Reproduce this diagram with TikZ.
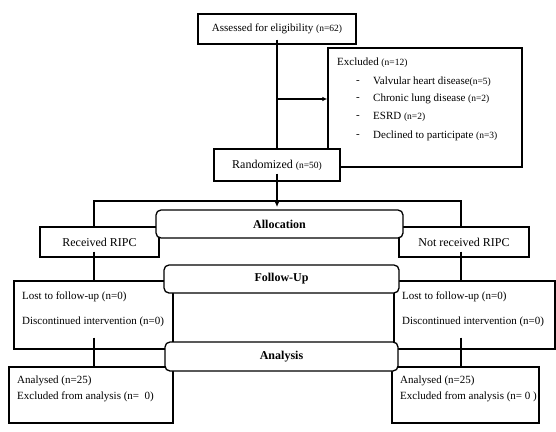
\documentclass[tikz,border=0pt]{standalone}
\usepackage{fontspec}
\setmainfont{Liberation Serif}
\usetikzlibrary{arrows.meta}

\tikzset{
  box/.style={draw, line width=1.3pt, inner sep=0pt, font=\fontsize{11}{13}\selectfont},
  bigbox/.style={box, font=\fontsize{12}{14}\selectfont},
  stage/.style={draw, line width=1.3pt, fill=white, rounded corners=5pt, inner sep=0pt,
    font=\fontsize{12}{14}\selectfont\bfseries},
  txt/.style={inner sep=0pt, anchor=west, font=\fontsize{11}{13}\selectfont},
  link/.style={line width=1.3pt},
  pointer/.style={link, -{Latex[length=5pt,width=4.5pt]}},
}
\newcommand{\nsmall}[1]{{\fontsize{9.5}{11}\selectfont #1}}

\begin{document}
\begin{tikzpicture}[x=1pt,y=-1pt]
\useasboundingbox (0,0) rectangle (556,431);

% screening
\node[box, minimum width=158pt, minimum height=30pt] (assess) at (277,29) {Assessed for eligibility \nsmall{(n=62)}};
\node[box, minimum width=194pt, minimum height=119pt] (excl) at (425,107.5) {};
\node[txt] (exclhead) at (337,63) {Excluded \nsmall{(n=12)}};
\foreach \y/\t [count=\i] in {82/{Valvular heart disease\nsmall{(n=5)}},
                              99/{Chronic lung disease \nsmall{(n=2)}},
                              117/{ESRD \nsmall{(n=2)}},
                              136/{Declined to participate \nsmall{(n=3)}}}{
  \node[txt] (dash\i) at (356,\y) {-};
  \node[txt] (excl\i) at (373,\y) {\t};
}
\node[bigbox, fill=white, minimum width=126pt, minimum height=32pt] (rand) at (277,165) {Randomized \nsmall{(n=50)}};

\coordinate (branch) at (277,99);
\coordinate (jl) at (94,201);
\coordinate (jr) at (461,201);

% arms
\node[bigbox, minimum width=119pt, minimum height=30pt] (recv) at (99.5,242) {Received RIPC};
\node[bigbox, minimum width=130pt, minimum height=30pt] (notrecv) at (464,242) {Not received RIPC};
\node[box, minimum width=159pt, minimum height=68pt] (lostL) at (93.5,315) {};
\node[box, minimum width=161pt, minimum height=68pt] (lostR) at (474.5,315) {};
\node[box, minimum width=164pt, minimum height=56pt] (anaL) at (91,395) {};
\node[box, minimum width=147pt, minimum height=56pt] (anaR) at (465.5,395) {};

% connectors
\draw[link] ([yshift=5pt]assess.south) -- (rand.north);
\draw[pointer] (branch) -- (branch -| excl.west);
\draw[pointer] ([yshift=8pt]rand.south) -- ([yshift=3pt]rand.south |- 0,210);
\draw[link] (recv.north -| jl) -- (jl) -- (jr) -- (notrecv.north -| jr);
\draw[link] ([yshift=6pt]recv.south -| jl) -- (lostL.north -| jl);
\draw[link] ([yshift=6pt]notrecv.south -| jr) -- (lostR.north -| jr);
\draw[link] ([yshift=12pt]lostL.south -| jl) -- (anaL.north -| jl);
\draw[link] ([yshift=12pt]lostR.south -| jr) -- (anaR.north -| jr);

% stages
\node[stage, minimum width=247pt, minimum height=28pt] (alloc) at (279.5,224) {Allocation};
\node[stage, minimum width=235pt, minimum height=28pt] (follow) at (281.5,279) {Follow-Up};
\node[stage, minimum width=233pt, minimum height=29pt] (analysis) at (281.5,356.5) {Analysis};

% box texts
\node[txt] (lostL1) at (22,297) {Lost to follow-up (n=0)};
\node[txt] (lostL2) at (22,322) {Discontinued intervention (n=0)};
\node[txt] (lostR1) at (402,297) {Lost to follow-up (n=0)};
\node[txt] (lostR2) at (402,322) {Discontinued intervention (n=0)};
\node[txt] (anaL1) at (17,381) {Analysed (n=25)};
\node[txt] (anaL2) at (17,397) {Excluded from analysis (n=\ \ 0)};
\node[txt] (anaR1) at (400,381) {Analysed (n=25)};
\node[txt] (anaR2) at (400,397) {Excluded from analysis (n= 0 )};
\end{tikzpicture}
\end{document}
